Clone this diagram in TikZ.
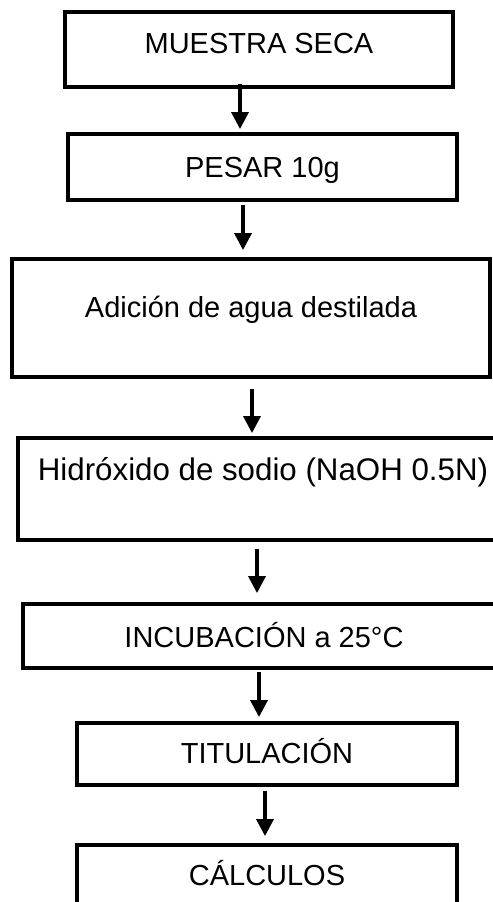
\documentclass[tikz,border=0pt]{standalone}
\usepackage{fontspec}
\setmainfont{Liberation Sans}
\usetikzlibrary{arrows.meta}

\tikzset{
  stepbox/.style={draw, line width=2.2pt, inner sep=0pt, anchor=base, font=\fontsize{16.5}{20}\selectfont},
  flow/.style={-{Triangle[width=0.34cm, length=0.34cm]}, line width=1.9pt}
}

\begin{document}
\begin{tikzpicture}[x=0.02cm, y=-0.02cm]
  \useasboundingbox (0,0) rectangle (493,902);
  \clip (0,0) rectangle (493,902);

  % steps
  \node[stepbox, minimum width=7.76cm, text height=0.828cm, text depth=0.672cm] (muestra) at (259,53.4) {MUESTRA SECA};
  \node[stepbox, minimum width=7.78cm, text height=0.868cm, text depth=0.452cm] (pesar) at (262.5,177.4) {PESAR 10g};
  \node[stepbox, minimum width=9.56cm, text height=1.168cm, text depth=1.192cm] (agua) at (251,317.4) {Adición de agua destilada};
  \node[stepbox, minimum width=9.8cm, text height=0.848cm, text depth=1.192cm, font=\fontsize{17.8}{21}\selectfont] (naoh) at (263,480.4) {Hidróxido de sodio (NaOH 0.5N)};
  \node[stepbox, minimum width=9.64cm, text height=0.868cm, text depth=0.412cm] (incub) at (264,647.4) {INCUBACIÓN a 25°C};
  \node[stepbox, minimum width=7.6cm, text height=0.808cm, text depth=0.432cm] (titul) at (267,763.4) {TITULACIÓN};
  \node[stepbox, minimum width=7.6cm, text height=0.808cm, text depth=0.9cm] (calc) at (267,885.4) {CÁLCULOS};

  % arrows
  \draw[flow, shorten <=-0.1cm, shorten >=0.06cm] (240,0 |- muestra.south) -- (240,0 |- pesar.north);
  \draw[flow, shorten <=0.06cm, shorten >=0.14cm] (243,0 |- pesar.south) -- (243,0 |- agua.north);
  \draw[flow, shorten <=0.2cm, shorten >=0.06cm] (252,0 |- agua.south) -- (252,0 |- naoh.north);
  \draw[flow, shorten <=0.14cm, shorten >=0.18cm] (257,0 |- naoh.south) -- (257,0 |- incub.north);
  \draw[flow, shorten <=0.04cm, shorten >=0.08cm] (259,0 |- incub.south) -- (259,0 |- titul.north);
  \draw[flow, shorten <=0.08cm, shorten >=0.14cm] (265,0 |- titul.south) -- (265,0 |- calc.north);
\end{tikzpicture}
\end{document}
